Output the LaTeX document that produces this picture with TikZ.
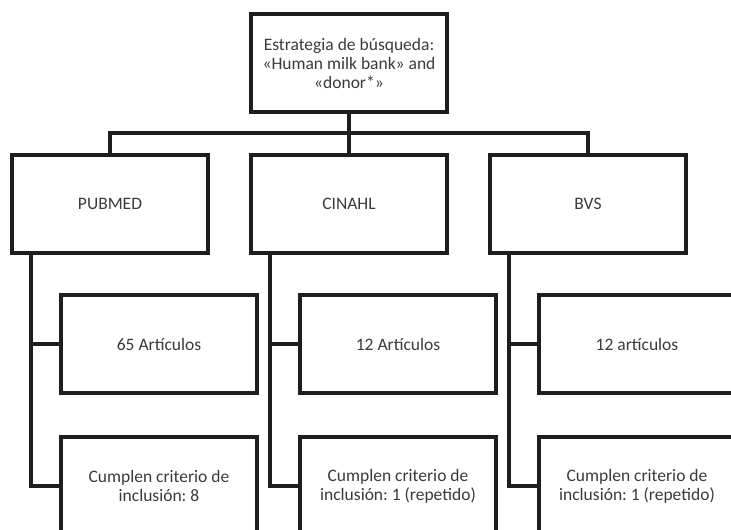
\documentclass[tikz,border=0pt]{standalone}
\usepackage{fontspec}
\setmainfont{Carlito}
\frenchspacing
\definecolor{linec}{HTML}{1E1E1E}
\definecolor{textc}{HTML}{3A3A3A}
\begin{document}
\begin{tikzpicture}[x=1pt,y=-1pt,
  boxstyle/.style={draw=linec, line width=4pt, minimum width=196pt, minimum height=98pt,
    inner sep=0pt, align=center, text=textc, font=\fontsize{17.5}{19}\selectfont},
  conn/.style={draw=linec, line width=4pt}]
\useasboundingbox (0,0) rectangle (731,530);
\node[boxstyle] (top) at (349,63) {Estrategia de búsqueda:\\«Human milk bank» and\\«donor*»};
\node[boxstyle] (pub) at (110,204) {PUBMED};
\node[boxstyle] (cin) at (349,204) {CINAHL};
\node[boxstyle] (bvs) at (588,204) {BVS};
\node[boxstyle] (puba) at (159,344) {65 Artículos};
\node[boxstyle] (pubb) at (159,486) {Cumplen criterio de\\inclusión: 8};
\node[boxstyle] (cina) at (398,344) {12 Artículos};
\node[boxstyle] (cinb) at (398,486) {Cumplen criterio de\\inclusión: 1 (repetido)};
\node[boxstyle] (bvsa) at (637,344) {12 artículos};
\node[boxstyle] (bvsb) at (637,486) {Cumplen criterio de\\inclusión: 1 (repetido)};
\coordinate (bar) at (0,133);
\draw[conn] (top.south) -- (cin.north);
\draw[conn] (pub.north) -- (pub.north |- bar) -- (bvs.north |- bar) -- (bvs.north);
\foreach \p in {pub,cin,bvs}{
  \draw[conn] ([xshift=-79pt]\p.south) |- (\p b.west);
  \draw[conn] ([xshift=-79pt]\p.south |- \p a.west) -- (\p a.west);
}
\end{tikzpicture}
\end{document}
